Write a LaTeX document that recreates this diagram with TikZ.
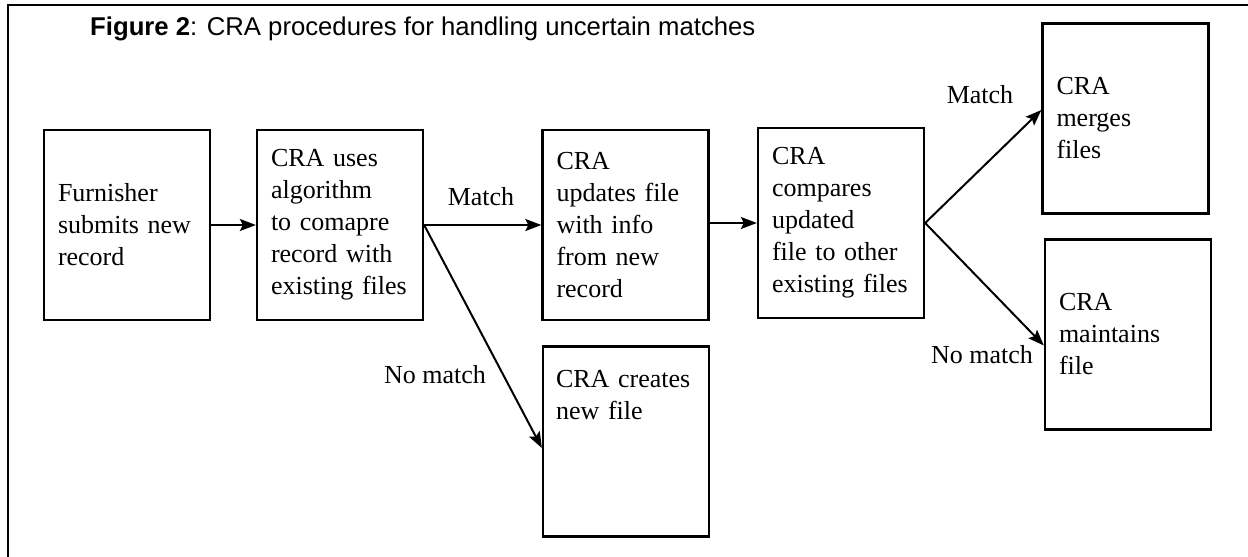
\documentclass[tikz,border=0pt]{standalone}
\usepackage{fontspec}
\setmainfont{Liberation Serif}
\newfontfamily\titlefont{Liberation Sans}
\usetikzlibrary{arrows.meta,positioning}

\tikzset{
  stepbox/.style={draw, line width=2.3pt, minimum width=166pt, minimum height=190pt,
    inner sep=0pt, text width=138pt, align=left, font=\fontsize{26}{32}\selectfont},
  boxtext/.style={anchor=north west, inner sep=0pt, text width=138pt, align=left,
    font=\fontsize{26}{32}\selectfont},
  flow/.style={-{Stealth[length=16pt,width=12pt,inset=3pt]}, line width=2pt},
  lbl/.style={anchor=base, inner sep=0pt, font=\fontsize{26}{32}\selectfont}
}

\begin{document}
\begin{tikzpicture}[x=1pt,y=-1pt]
   \useasboundingbox (0,0) rectangle (1248,557);
   \draw[line width=2.5pt] (8,557) -- (8,5) -- (1248,5);

   \node(title)[anchor=base west, inner sep=0pt, font=\titlefont\fontsize{25.7}{30}\selectfont]
     at (90,35) {\textbf{Figure 2}: CRA procedures for handling uncertain matches};

   \node(furn)[stepbox] at (127,225) {Furnisher\\submits new\\record};
   \node(algo)[stepbox] at (340,225) {CRA uses\\algorithm\\to comapre\\record with\\existing files};
   \node(upd)[stepbox] at (625.5,225) {CRA\\updates file\\with info\\from new\\record};
   \node(cmp)[stepbox] at (841,223) {CRA\\compares\\updated\\file to other\\existing files};
   \node(merge)[stepbox] at (1125.5,118.5) {CRA\\merges\\files};
   \node(maint)[stepbox] at (1128,334.5) {CRA\\maintains\\file};

   % text of this box sits at the top
   \node(create)[stepbox] at (626,441.5) {};
   \node(createtext)[boxtext] at ([xshift=14pt,yshift=-25pt]create.north west) {CRA creates\\new file};

   \draw[flow] (furn.east) -- (algo.west);
   \draw[flow] (algo.east) -- (upd.west);
   \draw[flow] (algo.east) -- ([yshift=-6.5pt]create.west);
   \draw[flow] (upd.east |- cmp.west) -- (cmp.west);
   \draw[flow] (cmp.east) -- ([yshift=8.5pt]merge.west);
   \draw[flow] (cmp.east) -- ([yshift=-11pt]maint.west);

   \node(match1)[lbl] at (481,205) {Match};
   \node(nomatch1)[lbl] at (435,383) {No match};
   \node(match2)[lbl] at (980,103) {Match};
   \node(nomatch2)[lbl] at (982,363) {No match};
\end{tikzpicture}
\end{document}
